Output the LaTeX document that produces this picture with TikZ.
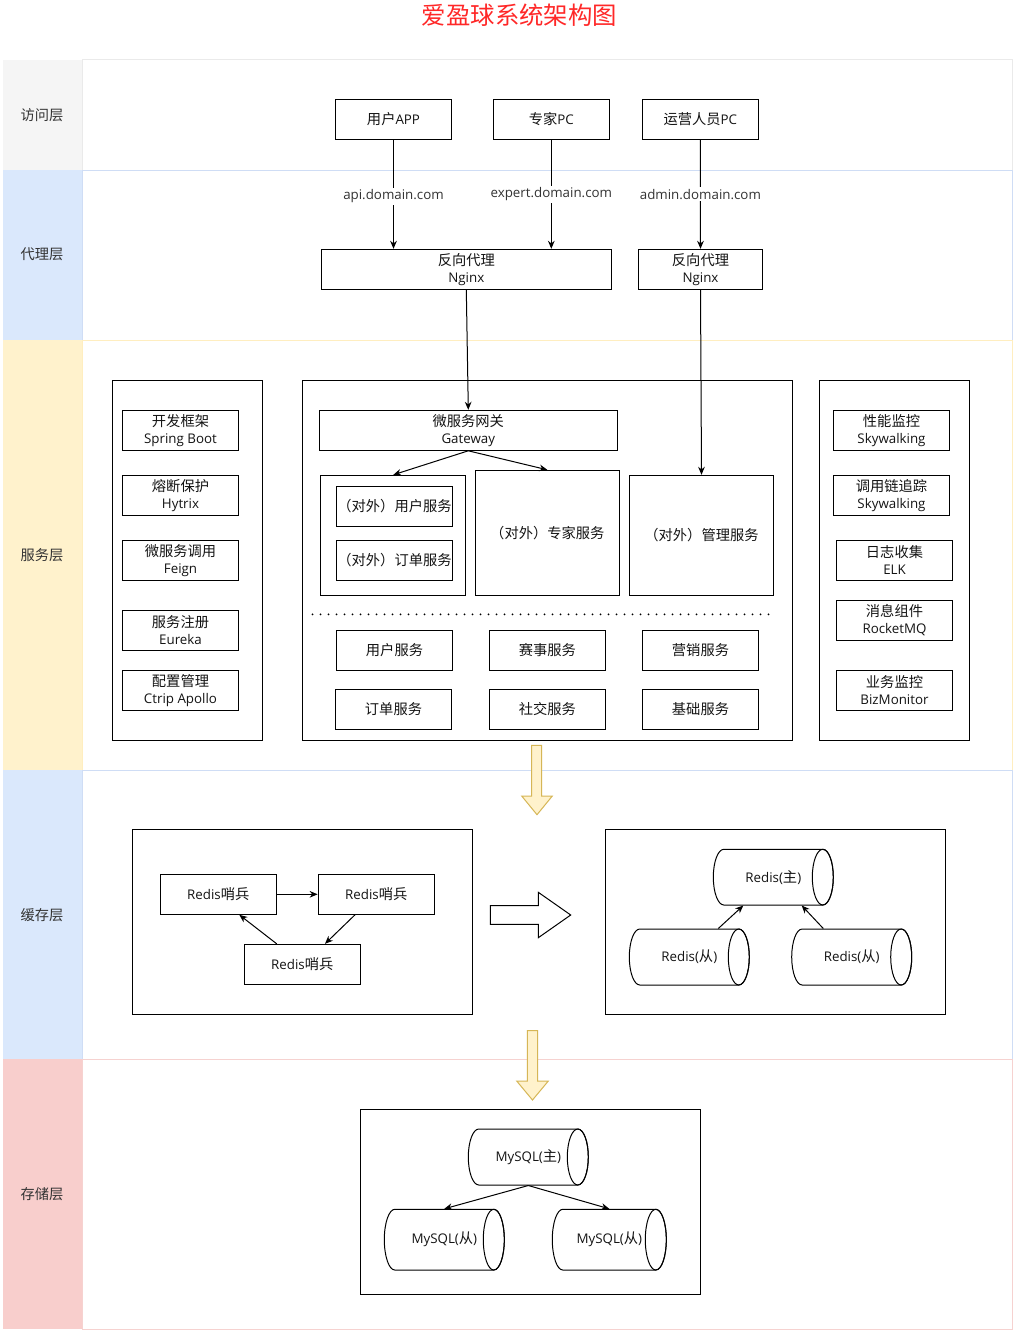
\documentclass[tikz,border=0pt]{standalone}
\usepackage{fontspec}
\setmainfont{Open Sans}
\newfontfamily\cjk{Noto Sans CJK SC}
\usetikzlibrary{arrows.meta,calc}
\newcommand\zhs[1]{{\cjk\fontsize{10.7}{12.8}\selectfont #1}}
\newcommand\nf{\fontsize{10}{12.8}\selectfont}
\definecolor{ttl}{RGB}{255,40,40}
\definecolor{txt}{RGB}{20,20,20}
\definecolor{domc}{RGB}{51,51,51}
\definecolor{gryF}{HTML}{F5F5F5}
\definecolor{bluF}{HTML}{DAE8FC}
\definecolor{yelF}{HTML}{FFF2CC}
\definecolor{pnkF}{HTML}{F8CECC}
\definecolor{gryB}{HTML}{EAEAEA}
\definecolor{bluB}{HTML}{CFDDF5}
\definecolor{yelB}{HTML}{FFEEC0}
\definecolor{pnkB}{HTML}{F6D2D0}
\definecolor{yarF}{HTML}{FFF2CC}
\definecolor{yarB}{HTML}{D6B656}
\newcommand\cylnode[6]{%
  \pgfmathsetmacro\cyry{(#5-#3)/2}%
  \pgfmathsetmacro\cycy{(#3+#5)/2}%
  \pgfmathsetmacro\cycx{(#2+#4)/2}%
  \pgfmathsetmacro\cyla{#2+10.5}%
  \pgfmathsetmacro\cylb{#4-10.5}%
  \pgfmathsetmacro\cyw{(#4-#2)*0.75}%
  \pgfmathsetmacro\cyh{(#5-#3)*0.75}%
  \draw[fill=white] (\cyla,#3) -- (\cylb,#3) arc[start angle=-90,end angle=90,x radius=10.5,y radius=\cyry] -- (\cyla,#5) arc[start angle=90,end angle=270,x radius=10.5,y radius=\cyry] -- cycle;
  \draw (\cylb,\cycy) ellipse[x radius=10.5,y radius=\cyry];
  \node[cyltext, minimum width=\cyw pt, minimum height=\cyh pt] (#1) at (\cycx,\cycy) {#6};
}
\begin{document}
\begin{tikzpicture}[x=0.75pt,y=-0.75pt,line width=0.75pt,
  bx/.style={draw, fill=white, minimum width=87.3pt, minimum height=30pt, inner sep=0pt, align=center, font=\nf, text=txt},
  cyltext/.style={inner sep=0pt, font=\nf, text=txt},
  arr/.style={-{Stealth[length=6pt,width=5pt]}, line width=0.75pt},
  lay/.style={font=\cjk\fontsize{10.7}{12.8}\selectfont, text=domc},
  dom/.style={fill=white, font=\nf, text=domc, inner sep=1.5pt},
  yarrow/.style={fill=yarF, draw=yarB, line width=0.75pt},
]
\useasboundingbox (0,0) rectangle (1013,1331);
\fill[white] (0,0) rectangle (1013,1331);

% layers
\fill[gryF] (3,60) rectangle (82,170);
\fill[bluF] (3,170) rectangle (82,340);
\fill[yelF] (3,340) rectangle (82,770);
\fill[bluF] (3,770) rectangle (82,1059.3);
\fill[pnkF] (3,1059.3) rectangle (82,1329.3);
\draw[gryB] (82,60) rectangle (1012,170);
\draw[bluB] (82,170) rectangle (1012,340);
\draw[yelB] (82,340) rectangle (1012,770);
\draw[bluB] (82,770) rectangle (1012,1059.3);
\draw[pnkB] (82,1059.3) rectangle (1012,1329.3);
\node[lay] (l1) at (42,115) {访问层};
\node[lay] (l2) at (42,254) {代理层};
\node[lay] (l3) at (42,555) {服务层};
\node[lay] (l4) at (42,915) {缓存层};
\node[lay] (l5) at (42,1194) {存储层};

% title
\node[font=\fontsize{18.3}{20}\selectfont\cjk, text=ttl] (title) at (519.5,15.5) {爱盈球系统架构图};

% access layer
\node[bx] (app) at (393.5,119.3) {\zhs{用户}APP};
\node[bx] (zj) at (551.3,119.3) {\zhs{专家}PC};
\node[bx] (yy) at (700.3,119.3) {\zhs{运营人员}PC};

% proxy layer
\node[bx, minimum width=217.5pt] (ng1) at (466.3,269.3) {\zhs{反向代理}\\Nginx};
\node[bx, minimum width=92.7pt] (ng2) at (700.5,269.3) {\zhs{反向代理}\\Nginx};
\draw[arr] (app.south) -- node[dom, pos=0.52] {api.domain.com} (app.south |- ng1.north);
\draw[arr] (zj.south) -- node[dom, pos=0.5] {expert.domain.com} (zj.south |- ng1.north);
\draw[arr] (yy.south) -- node[dom, pos=0.5] {admin.domain.com} (ng2.north);

% service layer containers
\draw (112.3,380.3) rectangle (262.7,740);
\draw (302.7,380) rectangle (792.7,740);
\draw (819.3,380) rectangle (969.7,740);

\node[bx, minimum width=223.5pt] (gw) at (468.3,430.3) {\zhs{微服务网关}\\Gateway};
\node[draw, minimum width=108.5pt, minimum height=90pt, inner sep=0pt] (grp) at (393.3,535.3) {};
\node[bx] (dwyh) at (394.5,506.3) {\zhs{（对外）用户服务}};
\node[bx] (dwdd) at (394.5,560.3) {\zhs{（对外）订单服务}};
\node[bx, minimum width=108pt, minimum height=93.75pt] (dwzj) at (547.3,532.8) {\zhs{（对外）专家服务}};
\node[bx, minimum width=108.3pt, minimum height=90pt] (dwgl) at (701.5,535.3) {\zhs{（对外）管理服务}};
\draw[line width=1.5pt, line cap=round, dash pattern=on 0pt off 6pt] (312.5,614.3) -- (771,614.3);

\node[bx] (yhfw) at (394.5,650.3) {\zhs{用户服务}};
\node[bx] (ssfw) at (547.3,650.3) {\zhs{赛事服务}};
\node[bx] (yxfw) at (700.5,650.3) {\zhs{营销服务}};
\node[bx] (ddfw) at (393.5,709.3) {\zhs{订单服务}};
\node[bx] (sjfw) at (547.3,709.3) {\zhs{社交服务}};
\node[bx] (jcfw) at (700.5,709.3) {\zhs{基础服务}};

\draw[arr] (ng1.south) -- (gw.north);
\draw[arr] (ng2.south) -- (dwgl.north);
\draw[arr] (gw.south) -- (grp.north);
\draw[arr] (gw.south) -- (dwzj.north);

\node[bx] (kf) at (180.5,430.3) {\zhs{开发框架}\\Spring Boot};
\node[bx] (rd) at (180.5,495.3) {\zhs{熔断保护}\\Hytrix};
\node[bx] (wfw) at (180.5,560.3) {\zhs{微服务调用}\\Feign};
\node[bx] (zc) at (180.5,630.3) {\zhs{服务注册}\\Eureka};
\node[bx] (pz) at (180.5,690.3) {\zhs{配置管理}\\Ctrip Apollo};

\node[bx] (xn) at (891.5,430.3) {\zhs{性能监控}\\Skywalking};
\node[bx] (dy) at (891.5,495.3) {\zhs{调用链追踪}\\Skywalking};
\node[bx] (rz) at (894.5,560.3) {\zhs{日志收集}\\ELK};
\node[bx] (xx) at (894.5,620.3) {\zhs{消息组件}\\RocketMQ};
\node[bx] (yw) at (894.5,690.3) {\zhs{业务监控}\\BizMonitor};

% yellow arrows
\draw[yarrow] (531.7,745.3) -- (541.7,745.3) -- (541.7,796) -- (552.3,796) -- (537,814.7) -- (521.7,796) -- (531.7,796) -- cycle;
\draw[yarrow] (527.3,1030.7) -- (537.7,1030.7) -- (537.7,1081) -- (548.3,1081) -- (532.5,1100) -- (516.7,1081) -- (527.3,1081) -- cycle;

% cache layer
\draw (132.3,829.3) rectangle (472.3,1014.7);
\node[bx] (s1) at (218.3,894.3) {Redis\zhs{哨兵}};
\node[bx] (s2) at (376.3,894.3) {Redis\zhs{哨兵}};
\node[bx] (s3) at (302.3,964.3) {Redis\zhs{哨兵}};
\draw[arr] (s1.east) -- (s2.west);
\draw[arr] ($(s2.south)+(-21.3,0)$) -- ($(s3.north)+(22.7,0)$);
\draw[arr] ($(s3.north)+(-25.6,0)$) -- ($(s1.south)+(21,0)$);

\draw[fill=white] (490.3,905.7) -- (538.3,905.7) -- (538.3,892.3) -- (570.7,915) -- (538.3,937.7) -- (538.3,924.3) -- (490.3,924.3) -- cycle;

\draw (605.7,829.3) rectangle (945.3,1014.3);
\cylnode{rm}{713.3}{849.3}{833.3}{905}{Redis(\zhs{主})}
\cylnode{rsa}{629.3}{929}{749.3}{985}{Redis(\zhs{从})}
\cylnode{rsb}{791.7}{929}{911.7}{985}{Redis(\zhs{从})}
\draw[arr] ($(rsa.north)+(29,0)$) -- ($(rm.south)+(-30,0)$);
\draw[arr] ($(rsb.north)+(-28.4,0)$) -- ($(rm.south)+(28.4,0)$);

% storage layer
\draw (360.3,1109.3) rectangle (700.3,1294.7);
\cylnode{mm}{468.3}{1129}{588.3}{1185}{MySQL(\zhs{主})}
\cylnode{msa}{384.3}{1209.3}{504.3}{1270}{MySQL(\zhs{从})}
\cylnode{msb}{552.3}{1209.3}{666.3}{1270}{MySQL(\zhs{从})}
\draw[arr] (mm.south) -- (msa.north);
\draw[arr] (mm.south) -- (msb.north);
\end{tikzpicture}
\end{document}
